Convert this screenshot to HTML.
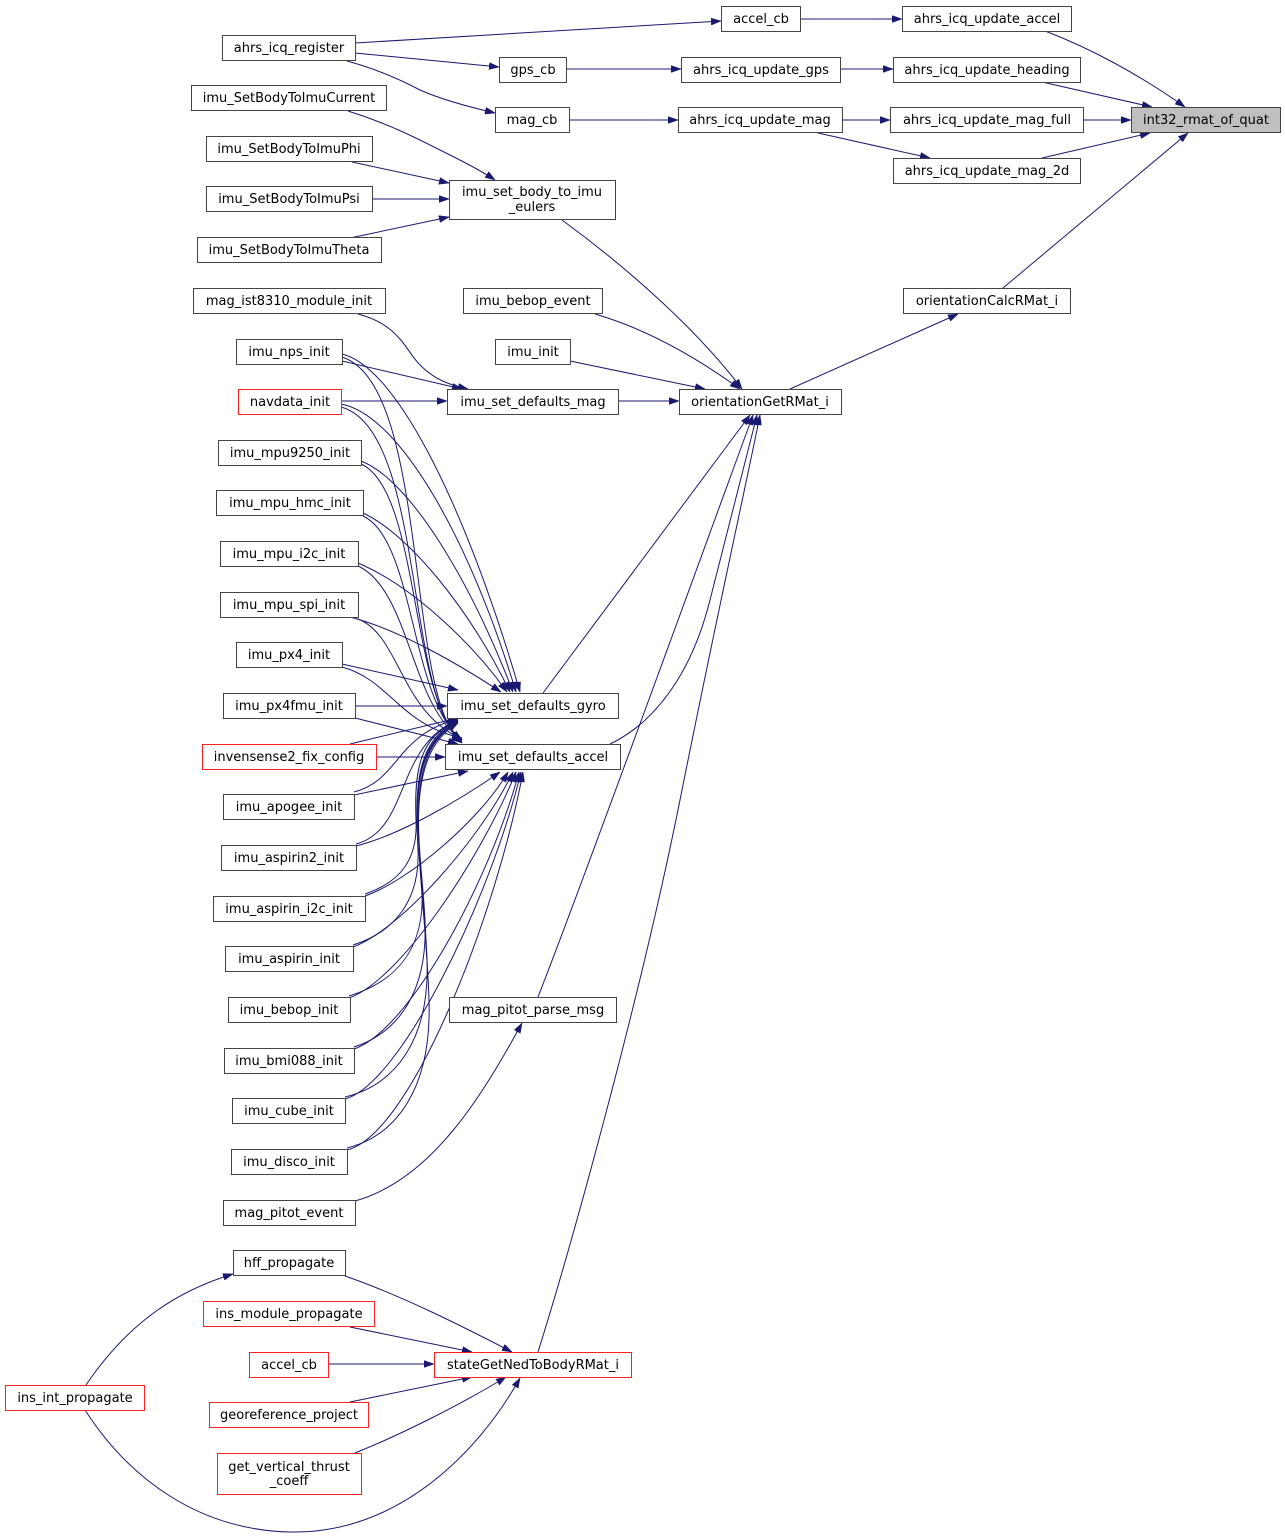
<!DOCTYPE html>
<html><head><meta charset="utf-8">
<style>
html,body{margin:0;padding:0;background:#fff;}
svg{display:block;}
text{font-family:"DejaVu Sans","Liberation Sans",sans-serif;font-size:13px;fill:#000;text-anchor:middle;}
.n{fill:#fff;stroke:#444;stroke-width:1;}
.r{fill:#fff;stroke:#ff2020;stroke-width:1;}
.g{fill:#bfbfbf;stroke:#444;stroke-width:1;}
.e{fill:none;stroke:#191970;stroke-width:1;marker-end:url(#ah);}
</style></head>
<body>
<svg width="1285" height="1538" viewBox="0 0 1285 1538" xmlns="http://www.w3.org/2000/svg">
<defs>
<marker id="ah" viewBox="0 0 10 7" refX="10" refY="3.5" markerWidth="10" markerHeight="7" markerUnits="userSpaceOnUse" orient="auto">
<path d="M0,0 L10,3.5 L0,7 z" fill="#191970" stroke="#191970" stroke-width="0.5"/>
</marker>
</defs>

<!-- EDGES -->
<path class="e" d="M355,43 L721,21"/>
<path class="e" d="M355,53 L499,67"/>
<path class="e" d="M347,61 C380,70 405,82 420,90 C440,99 465,106 495,113"/>
<path class="e" d="M566,69 L681,69"/>
<path class="e" d="M569,120 L678,120"/>
<path class="e" d="M800,19 L902,19"/>
<path class="e" d="M840,69 L893,69"/>
<path class="e" d="M842,120 L890,120"/>
<path class="e" d="M818,133 L930,158"/>
<path class="e" d="M1045,31 C1090,48 1140,75 1185,107"/>
<path class="e" d="M1042,82 L1152,107"/>
<path class="e" d="M1083,120 L1131,120"/>
<path class="e" d="M1042,158 L1150,133"/>
<path class="e" d="M1003,288 L1188,133"/>
<path class="e" d="M790,389 L958,314"/>

<path class="e" d="M348,111 C390,124 420,140 450,155 C470,165 483,172 495,180"/>
<path class="e" d="M352,162 L449,183"/>
<path class="e" d="M372,199 L449,199"/>
<path class="e" d="M350,238 L449,217"/>
<path class="e" d="M562,220 C610,255 690,320 742,389"/>

<path class="e" d="M595,314 C650,330 700,360 740,389"/>
<path class="e" d="M570,361 L705,389"/>
<path class="e" d="M618,401 L679,401"/>

<path class="e" d="M358,314 C400,325 405,350 420,365 C435,380 450,385 468,389"/>
<path class="e" d="M342,361 L462,389"/>
<path class="e" d="M341,401 L447,401"/>

<path class="e" d="M543,693 L750,415"/>
<path class="e" d="M610,744 C650,725 690,680 710,600 C730,520 745,460 757,415"/>
<path class="e" d="M538,997 C580,890 700,560 753,415"/>
<path class="e" d="M538,1352 C570,1250 640,1000 680,800 C720,600 745,490 760,415"/>
<path class="e" d="M355,1201 C430,1180 480,1100 522,1023"/>

<!-- upper nodes -> gyro / accel -->
<path class="e" d="M342,354 C400,368 470,520 520,692"/>
<path class="e" d="M342,357 C430,385 405,700 462,743"/>
<path class="e" d="M341,404 C400,415 470,540 516,692"/>
<path class="e" d="M341,407 C425,430 405,700 462,742"/>
<path class="e" d="M361,461 C410,480 470,580 513,692"/>
<path class="e" d="M361,464 C420,490 410,700 462,741"/>
<path class="e" d="M363,513 C410,535 470,610 510,692"/>
<path class="e" d="M363,516 C415,540 410,700 462,740"/>
<path class="e" d="M358,563 C410,585 470,640 507,692"/>
<path class="e" d="M358,566 C410,590 410,705 462,740"/>
<path class="e" d="M350,617 C400,630 460,665 501,692"/>
<path class="e" d="M358,619 C400,635 400,712 462,739"/>
<path class="e" d="M342,664 L458,690"/>
<path class="e" d="M342,667 C390,680 400,725 462,738"/>
<path class="e" d="M355,706 L447,706"/>
<path class="e" d="M355,718 L458,744"/>
<path class="e" d="M376,757 L445,757"/>
<path class="e" d="M350,744 L458,718"/>

<!-- lower nodes -> accel / gyro -->
<path class="e" d="M354,795 L468,771"/>
<path class="e" d="M354,792 C400,780 395,735 458,719"/>
<path class="e" d="M356,846 C400,835 460,800 500,772"/>
<path class="e" d="M356,844 C410,830 395,745 458,720"/>
<path class="e" d="M365,896 C410,880 480,820 508,772"/>
<path class="e" d="M365,894 C400,882 418,860 416,820 C414,770 420,735 458,721"/>
<path class="e" d="M353,947 C400,930 480,840 513,772"/>
<path class="e" d="M353,945 C395,932 420,900 418,850 C415,790 415,740 458,721"/>
<path class="e" d="M349,998 C400,980 480,860 516,772"/>
<path class="e" d="M349,996 C395,982 425,950 422,890 C418,820 405,750 458,722"/>
<path class="e" d="M354,1049 C410,1030 490,880 519,772"/>
<path class="e" d="M354,1047 C400,1032 428,990 425,920 C420,830 400,750 458,722"/>
<path class="e" d="M345,1099 C400,1085 490,900 521,772"/>
<path class="e" d="M345,1097 C395,1085 430,1040 427,960 C423,850 398,755 458,722"/>
<path class="e" d="M347,1150 C410,1135 495,920 523,772"/>
<path class="e" d="M347,1148 C395,1136 432,1090 429,1000 C425,870 395,760 458,723"/>

<!-- bottom cluster -->
<path class="e" d="M345,1276 C400,1295 460,1325 512,1352"/>
<path class="e" d="M350,1327 L472,1352"/>
<path class="e" d="M328,1364 L434,1364"/>
<path class="e" d="M350,1402 L472,1377"/>
<path class="e" d="M355,1453 C400,1435 460,1405 506,1377"/>
<path class="e" d="M86,1385 C130,1320 180,1290 233,1274"/>
<path class="e" d="M85,1410 C130,1480 200,1530 290,1532 C400,1534 480,1450 520,1378"/>

<!-- NODES -->
<rect class="g" x="1131.5" y="107.5" width="149" height="25"/><text x="1206" y="124">int32_rmat_of_quat</text>
<rect class="n" x="902.5" y="6.5" width="169" height="25"/><text x="987" y="23">ahrs_icq_update_accel</text>
<rect class="n" x="893.5" y="57.5" width="187" height="25"/><text x="987" y="74">ahrs_icq_update_heading</text>
<rect class="n" x="890.5" y="107.5" width="193" height="25"/><text x="987" y="124">ahrs_icq_update_mag_full</text>
<rect class="n" x="893.5" y="158.5" width="187" height="25"/><text x="987" y="175">ahrs_icq_update_mag_2d</text>
<rect class="n" x="903.5" y="288.5" width="167" height="25"/><text x="987" y="305">orientationCalcRMat_i</text>
<rect class="n" x="721.5" y="6.5" width="79" height="25"/><text x="761" y="23">accel_cb</text>
<rect class="n" x="681.5" y="57.5" width="159" height="25"/><text x="761" y="74">ahrs_icq_update_gps</text>
<rect class="n" x="678.5" y="107.5" width="164" height="25"/><text x="760" y="124">ahrs_icq_update_mag</text>
<rect class="n" x="679.5" y="389.5" width="162" height="25"/><text x="760" y="406">orientationGetRMat_i</text>
<rect class="n" x="499.5" y="57.5" width="67" height="25"/><text x="533" y="74">gps_cb</text>
<rect class="n" x="495.5" y="107.5" width="74" height="25"/><text x="532" y="124">mag_cb</text>
<rect class="n" x="449.5" y="180.5" width="166" height="39"/><text x="532" y="196">imu_set_body_to_imu</text><text x="532" y="211">_eulers</text>
<rect class="n" x="463.5" y="288.5" width="139" height="25"/><text x="533" y="305">imu_bebop_event</text>
<rect class="n" x="495.5" y="339.5" width="75" height="25"/><text x="533" y="356">imu_init</text>
<rect class="n" x="447.5" y="389.5" width="171" height="25"/><text x="533" y="406">imu_set_defaults_mag</text>
<rect class="n" x="447.5" y="693.5" width="171" height="25"/><text x="533" y="710">imu_set_defaults_gyro</text>
<rect class="n" x="445.5" y="744.5" width="175" height="25"/><text x="533" y="761">imu_set_defaults_accel</text>
<rect class="n" x="449.5" y="997.5" width="167" height="25"/><text x="533" y="1014">mag_pitot_parse_msg</text>
<rect class="r" x="434.5" y="1352.5" width="197" height="25"/><text x="533" y="1369">stateGetNedToBodyRMat_i</text>

<rect class="n" x="222.5" y="35.5" width="133" height="25"/><text x="289" y="52">ahrs_icq_register</text>
<rect class="n" x="191.5" y="85.5" width="195" height="25"/><text x="289" y="102">imu_SetBodyToImuCurrent</text>
<rect class="n" x="206.5" y="136.5" width="166" height="25"/><text x="289" y="153">imu_SetBodyToImuPhi</text>
<rect class="n" x="206.5" y="186.5" width="166" height="25"/><text x="289" y="203">imu_SetBodyToImuPsi</text>
<rect class="n" x="197.5" y="237.5" width="184" height="25"/><text x="289" y="254">imu_SetBodyToImuTheta</text>
<rect class="n" x="193.5" y="288.5" width="192" height="25"/><text x="289" y="305">mag_ist8310_module_init</text>
<rect class="n" x="236.5" y="339.5" width="106" height="25"/><text x="289" y="356">imu_nps_init</text>
<rect class="r" x="238.5" y="389.5" width="103" height="25"/><text x="290" y="406">navdata_init</text>
<rect class="n" x="218.5" y="440.5" width="143" height="25"/><text x="290" y="457">imu_mpu9250_init</text>
<rect class="n" x="216.5" y="490.5" width="147" height="25"/><text x="290" y="507">imu_mpu_hmc_init</text>
<rect class="n" x="220.5" y="541.5" width="138" height="25"/><text x="289" y="558">imu_mpu_i2c_init</text>
<rect class="n" x="220.5" y="592.5" width="138" height="25"/><text x="289" y="609">imu_mpu_spi_init</text>
<rect class="n" x="236.5" y="642.5" width="106" height="25"/><text x="289" y="659">imu_px4_init</text>
<rect class="n" x="223.5" y="693.5" width="132" height="25"/><text x="289" y="710">imu_px4fmu_init</text>
<rect class="r" x="202.5" y="744.5" width="174" height="25"/><text x="289" y="761">invensense2_fix_config</text>
<rect class="n" x="223.5" y="794.5" width="131" height="25"/><text x="289" y="811">imu_apogee_init</text>
<rect class="n" x="221.5" y="845.5" width="135" height="25"/><text x="289" y="862">imu_aspirin2_init</text>
<rect class="n" x="213.5" y="896.5" width="152" height="25"/><text x="289" y="913">imu_aspirin_i2c_init</text>
<rect class="n" x="225.5" y="946.5" width="128" height="25"/><text x="289" y="963">imu_aspirin_init</text>
<rect class="n" x="228.5" y="997.5" width="122" height="25"/><text x="289" y="1014">imu_bebop_init</text>
<rect class="n" x="224.5" y="1048.5" width="130" height="25"/><text x="289" y="1065">imu_bmi088_init</text>
<rect class="n" x="232.5" y="1098.5" width="113" height="25"/><text x="289" y="1115">imu_cube_init</text>
<rect class="n" x="231.5" y="1149.5" width="116" height="25"/><text x="289" y="1166">imu_disco_init</text>
<rect class="n" x="223.5" y="1200.5" width="132" height="25"/><text x="289" y="1217">mag_pitot_event</text>
<rect class="n" x="233.5" y="1250.5" width="112" height="25"/><text x="289" y="1267">hff_propagate</text>
<rect class="r" x="203.5" y="1301.5" width="171" height="25"/><text x="289" y="1318">ins_module_propagate</text>
<rect class="r" x="249.5" y="1352.5" width="79" height="25"/><text x="289" y="1369">accel_cb</text>
<rect class="r" x="209.5" y="1402.5" width="159" height="25"/><text x="289" y="1419">georeference_project</text>
<rect class="r" x="217.5" y="1453.5" width="144" height="41"/><text x="289" y="1471">get_vertical_thrust</text><text x="289" y="1485">_coeff</text>
<rect class="r" x="5.5" y="1385.5" width="139" height="25"/><text x="75" y="1402">ins_int_propagate</text>
</svg>
</body></html>
